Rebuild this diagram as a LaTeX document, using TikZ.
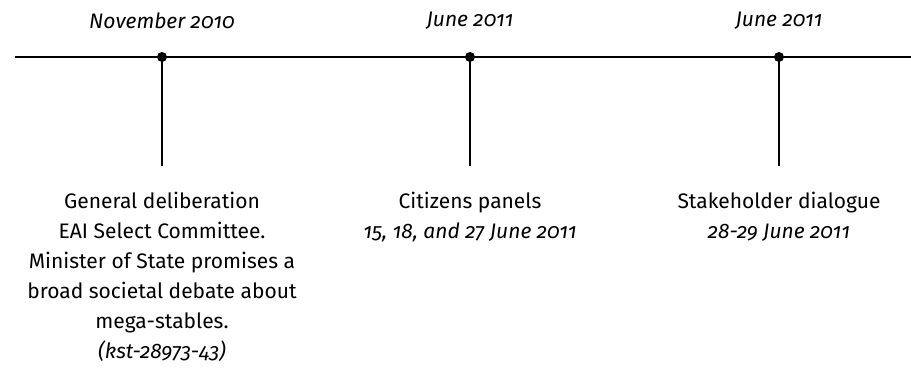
\documentclass[tikz,border=0pt]{standalone}
\usepackage{fontspec}
\setmainfont[Numbers=OldStyle]{Fira Sans}
\usepackage{tikz}

\tikzset{
  dot/.style={circle,fill,inner sep=0pt,minimum size=10pt},
  date/.style={font=\itshape\fontsize{21}{29}\selectfont},
  event/.style={align=center,anchor=north,font=\fontsize{21}{30}\selectfont}
}

\begin{document}
\begin{tikzpicture}[x=1pt,y=-1pt,line width=1.8pt]
      \useasboundingbox (0,0) rectangle (911,369);
      % timeline
      \coordinate (start) at (15,57);
      \coordinate (end) at (911,57);
      \draw (start) -- (end);
      \node[dot] (nov) at (162,57) {};
      \node[dot] (junea) at (470,57) {};
      \node[dot] (juneb) at (779,57) {};
      \coordinate (novend) at (162,166);
      \coordinate (juneaend) at (470,166);
      \coordinate (junebend) at (779,166);
      \draw (nov.center) -- (novend);
      \draw (junea.center) -- (juneaend);
      \draw (juneb.center) -- (junebend);
      % dates
      \node[date] (novdate) at (162,21) {November 2010};
      \node[date] (juneadate) at (470,21) {June 2011};
      \node[date] (junebdate) at (779,21) {June 2011};
      % events
      \node[event] (debate) at (162,188) {General deliberation\\EAI Select Committee.\\Minister of State promises a\\broad societal debate about\\mega-stables.\\\textit{(kst-28973-43)}};
      \node[event] (panels) at (470,188) {Citizens panels\\\textit{15, 18, and 27 June 2011}};
      \node[event] (dialogue) at (779,188) {Stakeholder dialogue\\\textit{28-29 June 2011}};
  \end{tikzpicture}
\end{document}
